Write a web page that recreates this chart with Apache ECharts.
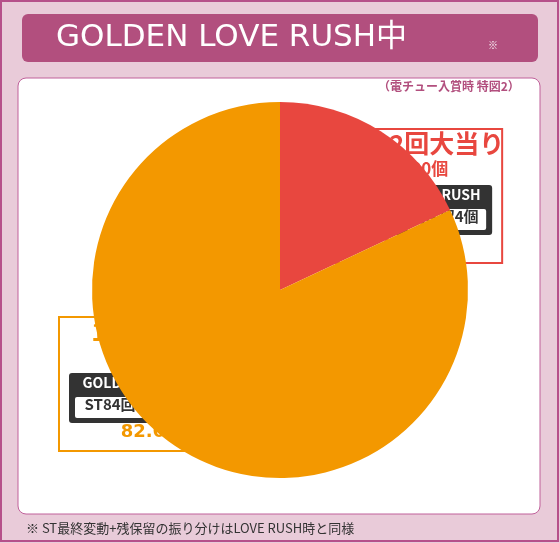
<!DOCTYPE html><html><head><meta charset="utf-8"><script src="https://cdn.jsdelivr.net/npm/echarts@6/dist/echarts.min.js"></script>
<style>body{margin:0}#c{width:560px;height:543px}</style></head><body><div id="c"></div><script>
const names=['10R×2回大当り','10R大当り'];
const values=[18.0,82.0];
const payouts=['約1400個','約700個'];
const colors=['#e8473f','#f39800'];
const F='"Noto Sans CJK JP",sans-serif';
const L='"DejaVu Sans","Noto Sans CJK JP",sans-serif';
function box(x,y,w,h,col,i){
 const cx=w/2;
 return {type:'group',left:x,top:y,zlevel:1,children:[
  {type:'rect',shape:{width:w,height:h},style:{fill:'#fff',stroke:col,lineWidth:2}},
  {type:'text',x:cx,y:2,style:{text:names[i],fill:col,font:'bold 25px '+F,align:'center'}},
  {type:'text',x:cx,y:31,style:{text:payouts[i],fill:col,font:'bold 17px '+F,align:'center'}},
  {type:'rect',shape:{x:10,y:56,width:w-20,height:50,r:3},style:{fill:'#333'}},
  {type:'text',x:cx,y:59,style:{text:'GOLDEN LOVE RUSH',fill:'#fff',font:'bold 14px '+F,align:'center'}},
  {type:'rect',shape:{x:16,y:80,width:w-32,height:21,r:2},style:{fill:'#fff'}},
  {type:'text',x:cx,y:80,style:{text:'ST84回＋残保留4個',fill:'#333',font:'bold 15px '+F,align:'center'}},
  {type:'text',x:cx,y:106,style:{text:values[i].toFixed(1)+'%',fill:col,font:'bold 18px '+L,align:'center'}}
 ]};
}
const ch=echarts.init(document.getElementById('c'));
ch.setOption({
 backgroundColor:'#e9cbd9',
 graphic:[
  {type:'rect',shape:{x:1,y:1,width:557,height:540},style:{fill:'none',stroke:'#b6508a',lineWidth:2},z:0},
  {type:'rect',shape:{x:22,y:14,width:516,height:48,r:6},style:{fill:'#b24f7e'},z:1},
  {type:'text',left:56,top:22,style:{text:'GOLDEN LOVE RUSH中',fill:'#fff',font:'31px '+L},z:2},
  {type:'text',left:488,top:40,style:{text:'※',fill:'#fff',font:'10px '+F},z:2},
  {type:'rect',shape:{x:18,y:78,width:522,height:436,r:8},style:{fill:'#fff',stroke:'#c0609a',lineWidth:1},z:0},
  {type:'text',left:378,top:80,style:{text:'（電チュー入賞時 特図2）',fill:'#b24f7e',font:'bold 12px '+F},z:2},
  {type:'text',left:26,top:522,style:{text:'※ ST最終変動+残保留の振り分けはLOVE RUSH時と同様',fill:'#333',font:'13px '+F},z:2},
  box(318,128,182,134,colors[0],0),
  box(58,316,186,134,colors[1],1)
 ],
 series:[{type:'pie',center:[280,290],radius:[0,188],startAngle:90,label:{show:false},silent:true,
  data:names.map((n,i)=>({name:n,value:values[i],itemStyle:{color:colors[i]}}))}]
});
</script></body></html>
